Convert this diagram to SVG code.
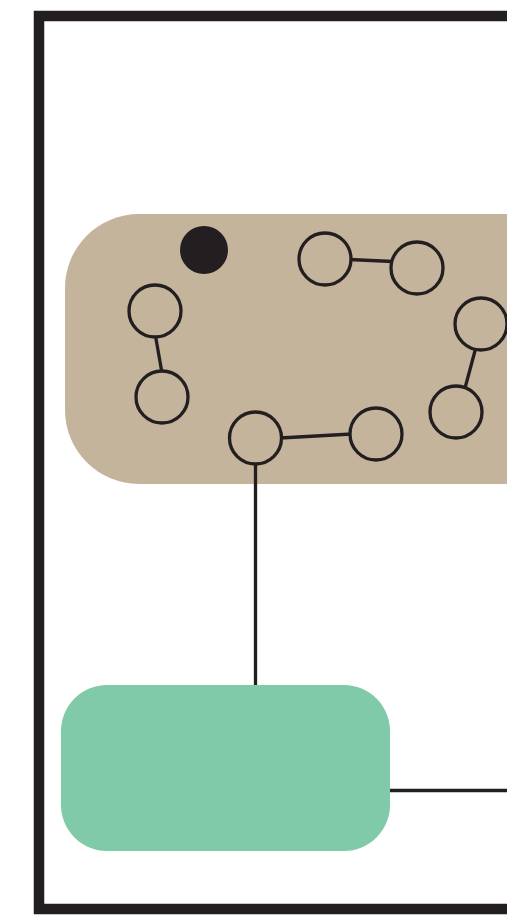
<svg xmlns="http://www.w3.org/2000/svg" width="507" height="915" viewBox="0 0 507 915">
<style>
.ring{fill:#c4b49c;stroke:#231f20;stroke-width:3.3}
.edge{stroke:#231f20;stroke-width:3.3;fill:none}
</style>
<rect width="507" height="915" fill="#ffffff"/>
<rect id="frame" x="39" y="16" width="520" height="893" fill="none" stroke="#231f20" stroke-width="10.5"/>
<g id="cluster"><rect x="65" y="214" width="520" height="270" rx="74" ry="74" fill="#c4b49c"/></g>
<g id="box"><rect x="61" y="685" width="329" height="166" rx="46" ry="46" fill="#80c9a9"/></g>
<g id="connectors">
<line class="edge" x1="155.5" y1="336" x2="162" y2="373"/>
<line class="edge" x1="349" y1="259.5" x2="393" y2="261.5"/>
<line class="edge" x1="475.5" y1="349" x2="465" y2="388"/>
<line class="edge" x1="280" y1="438" x2="352" y2="434"/>
<line class="edge" x1="255.5" y1="462" x2="255.5" y2="685"/>
<line class="edge" x1="390" y1="790.5" x2="507" y2="790.5"/>
</g>
<g id="dot"><circle cx="204" cy="250" r="24" fill="#231f20"/></g>
<g id="n1"><circle class="ring" cx="155" cy="311" r="26"/></g>
<g id="n2"><circle class="ring" cx="162" cy="397" r="26"/></g>
<g id="n3"><circle class="ring" cx="325" cy="259" r="26"/></g>
<g id="n4"><circle class="ring" cx="417" cy="268" r="26"/></g>
<g id="n5"><circle class="ring" cx="481" cy="324" r="26"/></g>
<g id="n6"><circle class="ring" cx="456" cy="412" r="26"/></g>
<g id="n7"><circle class="ring" cx="255.5" cy="438" r="26"/></g>
<g id="n8"><circle class="ring" cx="376" cy="434" r="26"/></g>
</svg>
